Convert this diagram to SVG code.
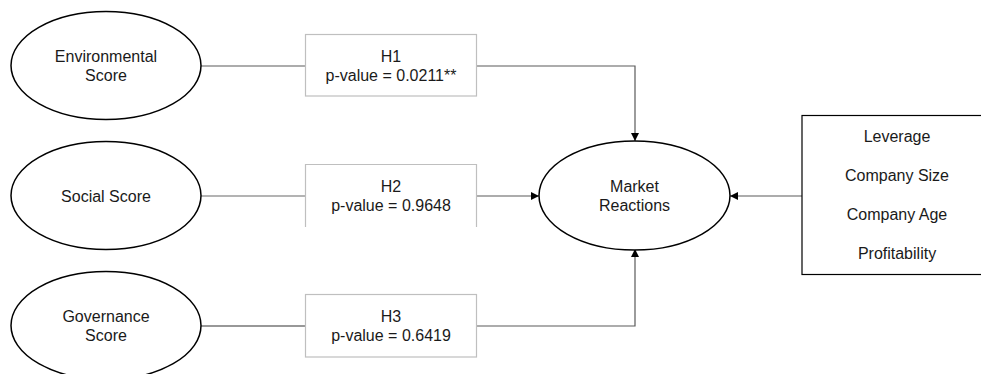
<svg xmlns="http://www.w3.org/2000/svg" width="981" height="374" viewBox="0 0 981 374">
<style>
text{font-family:"Liberation Sans",Arial,sans-serif;font-size:16px;fill:#1a1a1a;text-anchor:middle}
.ell{fill:#fff;stroke:#000;stroke-width:1.5}
.hbox{fill:#fff;stroke:#bfbfbf;stroke-width:1.2}
.cbox{fill:#fff;stroke:#000;stroke-width:1.2}
.ln{fill:none;stroke:#5a5a5a;stroke-width:1.2}
</style>
<defs>
<marker id="arr" viewBox="0 0 10 10" refX="10" refY="5" markerWidth="8" markerHeight="8" markerUnits="userSpaceOnUse" orient="auto">
<path d="M0,0 L10,5 L0,10 z" fill="#000"/>
</marker>
</defs>
<rect width="981" height="374" fill="#fff"/>
<g id="connectors">
<path class="ln" d="M201,66 H306"/>
<path class="ln" d="M477,66 H635 V141" marker-end="url(#arr)"/>
<path class="ln" style="stroke:#9a9a9a;stroke-width:1.6" d="M201,196 H306"/>
<path class="ln" d="M477,196 H539" marker-end="url(#arr)"/>
<path class="ln" style="stroke:#333" d="M201,326 H306"/>
<path class="ln" d="M477,326 H635 V249" marker-end="url(#arr)"/>
<path class="ln" d="M802,196 H730" marker-end="url(#arr)"/>
</g>
<g id="env">
<ellipse class="ell" cx="106" cy="65.5" rx="95" ry="54"/>
<text x="106" y="61.5">Environmental</text>
<text x="106" y="80.5">Score</text>
</g>
<g id="soc">
<ellipse class="ell" cx="106" cy="195.5" rx="95" ry="54"/>
<text x="106" y="201.5">Social Score</text>
</g>
<g id="gov">
<ellipse class="ell" cx="106" cy="325.5" rx="95" ry="54"/>
<text x="106" y="322">Governance</text>
<text x="106" y="341">Score</text>
</g>
<g id="h1">
<rect class="hbox" x="305.5" y="34.5" width="171" height="61.5"/>
<text x="391" y="62">H1</text>
<text x="391" y="81">p-value = 0.0211**</text>
</g>
<g id="h2">
<path class="hbox" d="M305.5,227 V164.5 H476.5 V227"/>
<text x="391" y="192">H2</text>
<text x="391" y="211">p-value = 0.9648</text>
</g>
<g id="h3">
<rect class="hbox" x="305.5" y="294.5" width="171" height="62.5"/>
<text x="391" y="322">H3</text>
<text x="391" y="341">p-value = 0.6419</text>
</g>
<g id="market">
<ellipse class="ell" cx="634.5" cy="195.5" rx="95.5" ry="54.5"/>
<text x="634.5" y="192">Market</text>
<text x="634.5" y="211">Reactions</text>
</g>
<g id="controls">
<rect class="cbox" x="802" y="115.5" width="190" height="159"/>
<text x="897" y="142">Leverage</text>
<text x="897" y="181">Company Size</text>
<text x="897" y="220">Company Age</text>
<text x="897" y="259">Profitability</text>
</g>
</svg>
